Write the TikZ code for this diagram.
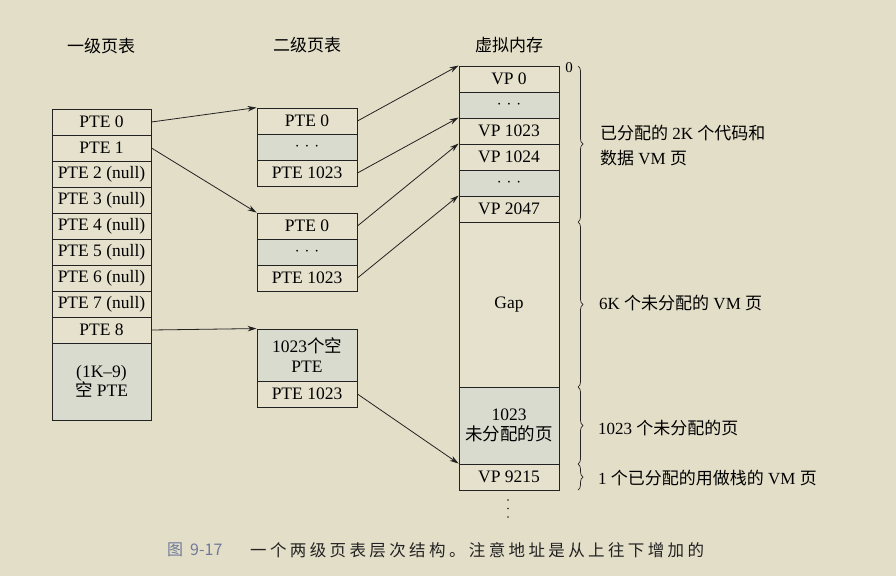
\documentclass[tikz,border=0pt]{standalone}
\usepackage{fontspec}
\setmainfont{Liberation Serif}
\newfontfamily\cjk{Noto Sans CJK SC}
\newfontfamily\capfont[LetterSpace=20.5]{Noto Sans CJK SC}
\usetikzlibrary{arrows.meta,decorations.pathreplacing}
\definecolor{bg}{HTML}{E3DEC8}
\definecolor{boxfill}{HTML}{E5E1CD}
\definecolor{dotfill}{HTML}{DADBCF}
\definecolor{ink}{HTML}{222222}
\definecolor{capblue}{HTML}{6F7A99}
\tikzset{
  cell/.style={draw=ink, line width=0.9pt, fill=boxfill, minimum width=100, minimum height=26,
    inner sep=0pt, align=center, font=\fontsize{17.5}{19.5}\selectfont},
  dotcell/.style={cell, fill=dotfill},
  title/.style={font=\cjk\fontsize{17}{19}\selectfont},
  lab/.style={anchor=west, inner sep=0pt, align=left, font=\fontsize{17}{25}\selectfont},
  conn/.style={draw=ink, line width=0.8pt, -{Stealth[length=9pt,width=5.5pt]}},
  brc/.style={draw=ink, line width=0.7pt, decorate, decoration={brace, amplitude=5pt}}
}
\newcommand{\dotsrow}{$\cdot$\hspace{5pt}$\cdot$\hspace{5pt}$\cdot$}
\begin{document}
\begin{tikzpicture}[x=1pt,y=-1pt]
\useasboundingbox[fill=bg] (0,0) rectangle (896,576);

% titles
\node[title] (t1) at (101,46) {一级页表};
\node[title] (t2) at (307,45) {二级页表};
\node[title] (t3) at (509,45) {虚拟内存};

% level-1 page table
\node[cell, minimum width=99] (l0) at (101.5,122) {PTE 0};
\node[cell, minimum width=99] (l1) at (101.5,148) {PTE 1};
\node[cell, minimum width=99] (l2) at (101.5,174) {PTE 2 (null)};
\node[cell, minimum width=99] (l3) at (101.5,200) {PTE 3 (null)};
\node[cell, minimum width=99] (l4) at (101.5,226) {PTE 4 (null)};
\node[cell, minimum width=99] (l5) at (101.5,252) {PTE 5 (null)};
\node[cell, minimum width=99] (l6) at (101.5,278) {PTE 6 (null)};
\node[cell, minimum width=99] (l7) at (101.5,304) {PTE 7 (null)};
\node[cell, minimum width=99] (l8) at (101.5,330) {PTE 8};
\node[cell, minimum width=99, minimum height=77, fill=dotfill] (l9) at (101.5,381.5) {(1K--9)\\{\cjk 空} PTE};

% level-2 page tables
\node[cell] (m1a) at (307,121) {PTE 0};
\node[dotcell] (m1b) at (307,147) {\dotsrow};
\node[cell] (m1c) at (307,173) {PTE 1023};

\node[cell] (m2a) at (307,226) {PTE 0};
\node[dotcell] (m2b) at (307,252) {\dotsrow};
\node[cell] (m2c) at (307,278) {PTE 1023};

\node[cell, minimum height=52, fill=dotfill] (m3a) at (307,355) {1023{\cjk 个空}\\PTE};
\node[cell] (m3b) at (307,394) {PTE 1023};

% virtual memory
\node[cell] (r0) at (509,79) {VP 0};
\node[dotcell] (r1) at (509,105) {\dotsrow};
\node[cell] (r2) at (509,131) {VP 1023};
\node[cell] (r3) at (509,157) {VP 1024};
\node[dotcell] (r4) at (509,183) {\dotsrow};
\node[cell] (r5) at (509,209) {VP 2047};
\node[cell, minimum height=165] (r6) at (509,304.5) {Gap};
\node[dotcell, minimum height=77] (r7) at (509,425.5) {1023\\{\cjk 未分配的页}};
\node[cell] (r8) at (509,477) {VP 9215};

\node[font=\fontsize{15}{17}\selectfont, inner sep=0pt] (zero) at (569,68) {0};

% trailing dots
\fill[ink] (508,500) circle (0.9) (508,508.5) circle (0.9) (508,517) circle (0.9);

% connectors
\draw[conn] (l0.east) -- (m1a.north west);
\draw[conn] (l1.east) -- (m2a.north west);
\draw[conn] (l8.east) -- (m3a.north west);
\draw[conn] (m1a.east) -- (r0.north west);
\draw[conn] (m1c.east) -- (r2.north west);
\draw[conn] (m2a.east) -- (r3.north west);
\draw[conn] (m2c.east) -- (r5.north west);
\draw[conn] (m3b.east) -- (r8.north west);

% braces
\draw[brc] (578,66) -- (578,222);
\draw[brc] (578,222) -- (578,387);
\draw[brc] (578,387) -- (578,464);
\draw[brc] (578,464) -- (578,490);

% brace labels
\node[lab] (b1) at (600,146) {{\cjk 已分配的} 2K {\cjk 个代码和}\\{\cjk 数据} VM {\cjk 页}};
\node[lab] (b2) at (599,303) {6K {\cjk 个未分配的} VM {\cjk 页}};
\node[lab] (b3) at (598,428) {1023 {\cjk 个未分配的页}};
\node[lab] (b4) at (598,478) {1 {\cjk 个已分配的用做栈的} VM {\cjk 页}};

% caption
\node[anchor=west, inner sep=0pt, text=capblue, font=\cjk\fontsize{16}{18}\selectfont] (c0) at (167,550) {图};
\node[anchor=west, inner sep=0pt, text=capblue, font=\cjk\fontsize{16}{18}\selectfont] (c1) at (190,550) {9-17};
\node[anchor=west, inner sep=0pt, text=ink, font=\capfont\fontsize{16.5}{18}\selectfont] (c2) at (250,550) {一个两级页表层次结构。注意地址是从上往下增加的};
\end{tikzpicture}
\end{document}
